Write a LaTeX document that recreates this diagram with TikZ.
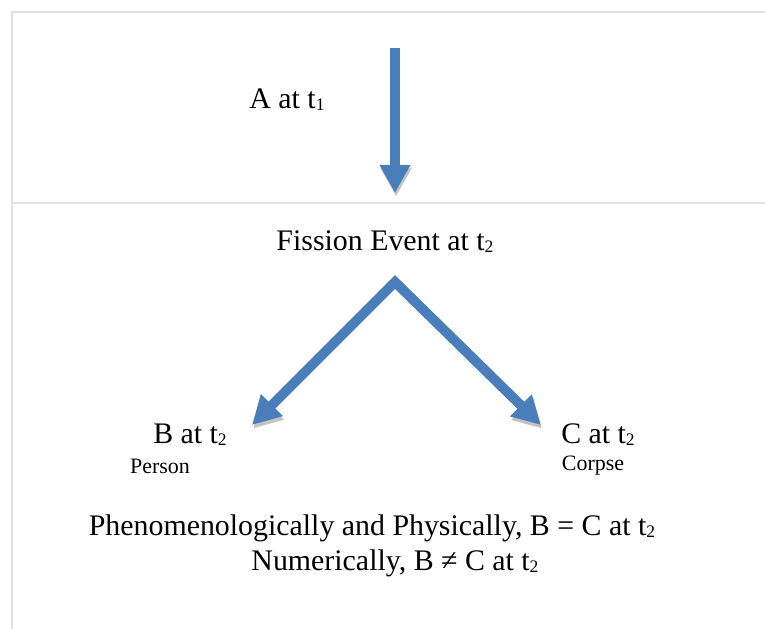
\documentclass[tikz,border=0pt]{standalone}
\usepackage{fontspec}
\setmainfont{Liberation Serif}
\usetikzlibrary{arrows.meta,positioning}
\definecolor{arrowblue}{RGB}{74,126,187}
\definecolor{shadowgray}{RGB}{195,195,195}
\definecolor{framegray}{RGB}{225,225,225}
\tikzset{
    label/.style={inner sep=0pt, font=\fontsize{17}{20}\selectfont},
    sublabel/.style={inner sep=0pt, font=\fontsize{12.5}{15}\selectfont},
    blockarrow/.style={draw=arrowblue, line width=5.6pt, line join=miter,
        preaction={draw=shadowgray, transform canvas={shift={(0.6pt,-2pt)}}}},
    bigtip/.tip={Triangle[length=16pt, width=16.5pt]},
}
\newcommand{\sub}[1]{\raisebox{-0.15ex}{\fontsize{10}{10}\selectfont #1}}

\begin{document}
\begin{tikzpicture}[x=0.02cm, y=-0.02cm]
    \useasboundingbox (0,0) rectangle (765,629);
    % --- frame lines ---
    \draw[framegray, line width=0.6pt] (765,12) -- (12,12) -- (12,629);
    \draw[framegray, line width=0.6pt] (12,203) -- (765,203);

    % --- labels ---
    \node[label] (a) at (287,100) {A at t\sub{1}};
    \node[label] (fission) at (385,242) {Fission Event at t\sub{2}};
    \node[label] (b) at (190,435) {B at t\sub{2}};
    \node[sublabel] (person) at (160,466) {Person};
    \node[label] (c) at (598,435) {C at t\sub{2}};
    \node[sublabel] (corpse) at (593,466) {Corpse};
    \node[label] (same) at (372,528) {Phenomenologically and Physically, B = C at t\sub{2}};
    \node[label] (differ) at (395,563) {Numerically, B ≠ C at t\sub{2}};

    % --- arrows ---
    \coordinate (atop) at (395,48);
    \coordinate (aend) at (395,193);
    \coordinate (apex) at (395,282);
    \coordinate (btip) at (252,425);
    \coordinate (ctip) at (541,425);
    \draw[blockarrow, -bigtip] (atop) -- (aend);
    \draw[blockarrow, bigtip-bigtip] (btip) -- (apex) -- (ctip);
\end{tikzpicture}
\end{document}
